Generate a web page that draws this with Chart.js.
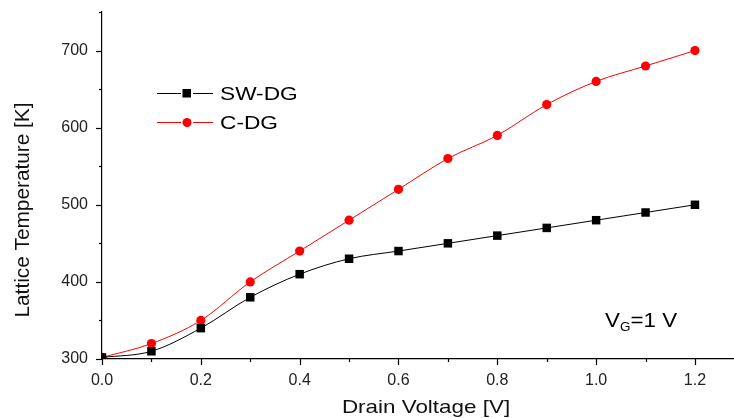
<!DOCTYPE html>
<html>
<head>
<meta charset="utf-8">
<script src="https://cdn.jsdelivr.net/npm/chart.js@4.4.0/dist/chart.umd.min.js"></script>
<style>
    html, body { margin: 0; padding: 0; background: #fff; overflow: hidden; }
    #wrap { width: 734px; height: 418px; position: relative; }
    #chart { display: block; }
</style>
</head>
<body>
<div id="wrap"><canvas id="chart"></canvas></div>
<script>
// Drain voltage sweep [V]
const voltages = [0.0, 0.1, 0.2, 0.3, 0.4, 0.5, 0.6, 0.7, 0.8, 0.9, 1.0, 1.1, 1.2];
// Lattice temperature [K]
const swDg = [302, 310, 340, 380, 410, 430, 440, 450, 460, 470, 480, 490, 500];
const cDg = [302, 320, 350, 400, 440, 480, 520, 560, 590, 630, 660, 680, 700];
const seriesNames = ['SW-DG', 'C-DG'];

const FONT = "'Liberation Sans', Arial, sans-serif";

// text drawn a bit wide, like the original figure
function wideText(ctx, text, x, y, size, sx, rot) {
    ctx.save();
    ctx.font = size + 'px ' + FONT;
    ctx.translate(x, y);
    if (rot) ctx.rotate(rot);
    ctx.scale(sx, 1);
    ctx.fillText(text, 0, 0);
    const w = ctx.measureText(text).width * sx;
    ctx.restore();
    return w;
}

// minor/major outward ticks, legend, axis titles and V_G note
const decorPlugin = {
    id: 'decor',
    afterDraw(chart) {
        const ctx = chart.ctx;
        const xs = chart.scales.x, ys = chart.scales.y;
        const area = chart.chartArea;
        ctx.save();
        ctx.strokeStyle = '#000';
        ctx.lineWidth = 1.2;

        // x ticks
        for (let i = 0; i * 0.1 <= xs.max + 1e-9; i++) {
            const px = Math.round(xs.getPixelForValue(i * 0.1)) + 0.5;
            const len = i % 2 === 0 ? 6 : 3;
            ctx.beginPath();
            ctx.moveTo(px, area.bottom);
            ctx.lineTo(px, area.bottom + len);
            ctx.stroke();
        }
        // y ticks
        for (let v = ys.min; v <= ys.max + 1e-9; v += 50) {
            const py = Math.round(ys.getPixelForValue(v)) + 0.5;
            const len = v % 100 === 0 ? 6 : 3;
            ctx.beginPath();
            ctx.moveTo(area.left, py);
            ctx.lineTo(area.left - len, py);
            ctx.stroke();
        }

        // legend
        const lx = area.left + 55, ly = area.top + 81;
        ctx.textBaseline = 'alphabetic';
        ctx.textAlign = 'left';
        chart.data.datasets.forEach((ds, i) => {
            const y = ly + i * 29;
            ctx.strokeStyle = ds.borderColor;
            ctx.lineWidth = 1;
            ctx.beginPath();
            ctx.moveTo(lx, y + 0.5);
            ctx.lineTo(lx + 24, y + 0.5);
            ctx.moveTo(lx + 36, y + 0.5);
            ctx.lineTo(lx + 56, y + 0.5);
            ctx.stroke();
            ctx.fillStyle = ds.backgroundColor;
            if (ds.pointStyle === 'rect') {
                ctx.fillRect(lx + 25.5, y - 4, 8.5, 8.5);
            } else {
                ctx.beginPath();
                ctx.arc(lx + 30, y + 0.5, 4.5, 0, Math.PI * 2);
                ctx.fill();
            }
            ctx.fillStyle = '#000';
            wideText(ctx, ds.label, lx + 63, y + 7, 18, 1.26);
        });

        // axis titles
        ctx.fillStyle = '#111';
        ctx.textAlign = 'center';
        wideText(ctx, 'Drain Voltage [V]', area.left + 324, 413, 19, 1.18);
        ctx.textBaseline = 'middle';
        wideText(ctx, 'Lattice Temperature [K]', 23, 210, 20, 1.04, -Math.PI / 2);
        ctx.textBaseline = 'alphabetic';

        // V_G = 1 V note
        ctx.textAlign = 'left';
        ctx.fillStyle = '#000';
        const nx = area.left + 503, ny = area.top + 315;
        let w = wideText(ctx, 'V', nx, ny, 20, 1.12);
        w += wideText(ctx, 'G', nx + w, ny + 4, 12, 1.12);
        wideText(ctx, '=1 V', nx + w, ny, 20, 1.12);
        ctx.restore();
    }
};

new Chart(document.getElementById('chart'), {
    type: 'line',
    data: {
        labels: voltages,
        datasets: [
            {
                label: seriesNames[0],
                data: voltages.map((v, i) => ({ x: v, y: swDg[i] })),
                borderColor: '#000000',
                backgroundColor: '#000000',
                borderWidth: 1,
                pointStyle: 'rect',
                pointRadius: 6,
                pointBorderWidth: 0,
                cubicInterpolationMode: 'monotone'
            },
            {
                label: seriesNames[1],
                data: voltages.map((v, i) => ({ x: v, y: cDg[i] })),
                borderColor: '#ff0000',
                backgroundColor: '#ff0000',
                borderWidth: 1,
                pointStyle: 'circle',
                pointRadius: 4.6,
                pointBorderWidth: 0,
                cubicInterpolationMode: 'monotone'
            }
        ]
    },
    options: {
        responsive: true,
        maintainAspectRatio: false,
        animation: false,
        layout: { autoPadding: false, padding: { top: 12, right: 0, left: 0, bottom: 0 } },
        plugins: {
            legend: { display: false },
            tooltip: { enabled: false }
        },
        scales: {
            x: {
                type: 'linear',
                min: 0,
                max: 1.279,
                grid: { display: false },
                border: { display: true, color: '#000', width: 1.2 },
                ticks: {
                    stepSize: 0.2,
                    includeBounds: false,
                    padding: 4,
                    color: '#222',
                    font: { family: FONT, size: 16 },
                    callback: v => v.toFixed(1)
                },
                afterFit: s => {
                    s.height = 59;
                    s.paddingLeft = 0;
                    s.paddingRight = 0;
                }
            },
            y: {
                min: 300,
                max: 750,
                grid: { display: false },
                border: { display: true, color: '#000', width: 1.2 },
                ticks: {
                    stepSize: 100,
                    includeBounds: false,
                    padding: 6,
                    color: '#222',
                    font: { family: FONT, size: 16 }
                },
                afterFit: s => {
                    s.width = 102;
                    s.paddingTop = 0;
                    s.paddingBottom = 0;
                }
            }
        }
    },
    plugins: [decorPlugin]
});
</script>
</body>
</html>
